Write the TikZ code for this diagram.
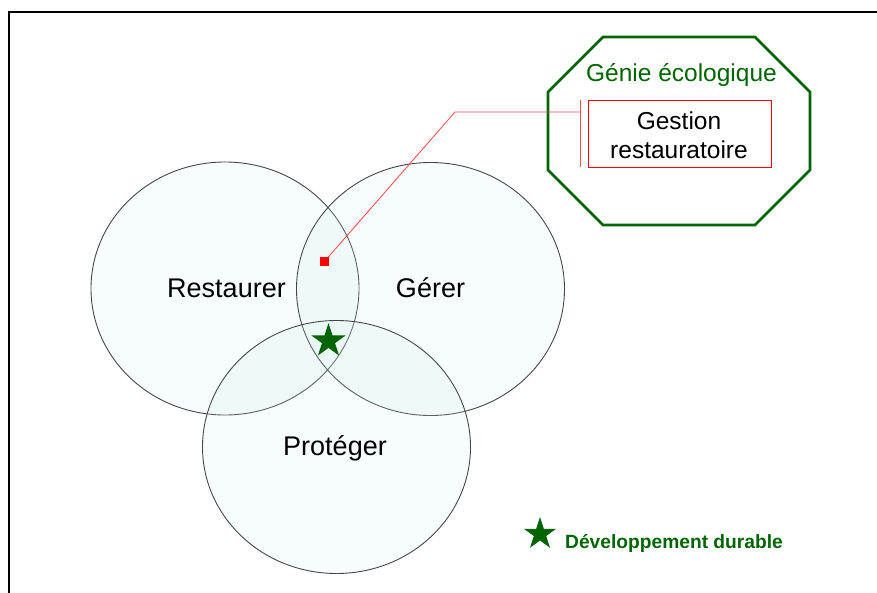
\documentclass[tikz,border=0pt]{standalone}
\usepackage{fontspec}
\setmainfont{Liberation Sans}
\usetikzlibrary{shapes.geometric}
\definecolor{dgreen}{RGB}{0,100,0}
\definecolor{cfill}{RGB}{205,235,235}
\definecolor{cline}{RGB}{70,70,70}
\definecolor{lred}{RGB}{255,70,70}
\tikzset{
  setcircle/.style={ellipse, draw=cline, line width=0.9pt, fill=cfill, fill opacity=0.16,
    draw opacity=1, minimum width=268pt, minimum height=253pt, inner sep=0pt},
  bigtext/.style={anchor=base, inner sep=0pt, font=\fontsize{27}{30}\selectfont},
  octtext/.style={anchor=base, inner sep=0pt, font=\fontsize{24.5}{28}\selectfont},
  greenstar/.style={star, star points=5, star point ratio=2.618, fill=dgreen, draw=none,
    inner sep=0pt},
}
\begin{document}
\begin{tikzpicture}[x=1pt,y=-1pt]
\useasboundingbox (0,0) rectangle (877,593);
% frame
\draw[line width=2pt] (9,593) -- (9,12) -- (877,12);
% circles
\node[setcircle] (R) at (225,288.5) {};
\node[setcircle] (G) at (430.5,289) {};
\node[setcircle] (P) at (336.5,447) {};
\node[bigtext] (tR) at (226.5,298) {Restaurer};
\node[bigtext] (tG) at (430.5,298) {Gérer};
\node[bigtext] (tP) at (335,455) {Protéger};
% octagon
\draw[dgreen, line width=2.6pt, line join=miter]
  (603,37) -- (755,37) -- (810,92) -- (810,170) -- (755,225) -- (603,225) -- (548,170) -- (548,92) -- cycle;
\node[octtext, text=dgreen] (geni) at (681.5,81.5) {Génie écologique};
\node[draw=red, line width=0.8pt, minimum width=183pt, minimum height=67pt, inner sep=0pt] (box) at (679.5,133.5) {};
\node[octtext] (g1) at (679,130) {Gestion};
\node[octtext] (g2) at (679,158.5) {restauratoire};
% callout
\coordinate (bend) at (455,112);
\coordinate (bar) at (580,112);
\coordinate (barT) at (580,100);
\coordinate (barB) at (580,167);
\coordinate (sqc) at (324,262);
\draw[lred, line width=0.8pt] (sqc) -- (bend) -- (bar);
\draw[lred, line width=0.8pt] (barT) -- (barB);
\node[fill=red, minimum size=9pt, inner sep=0pt] (sq) at (sqc) {};
% stars
\node[greenstar, minimum size=36pt] (star) at (328.5,341) {};
\node[greenstar, minimum size=34pt] (lstar) at (540,534) {};
\node[anchor=base west, inner sep=0pt, text=dgreen, font=\bfseries\fontsize{19.2}{22}\selectfont] (leg) at (565,548) {Développement durable};
\end{tikzpicture}
\end{document}
